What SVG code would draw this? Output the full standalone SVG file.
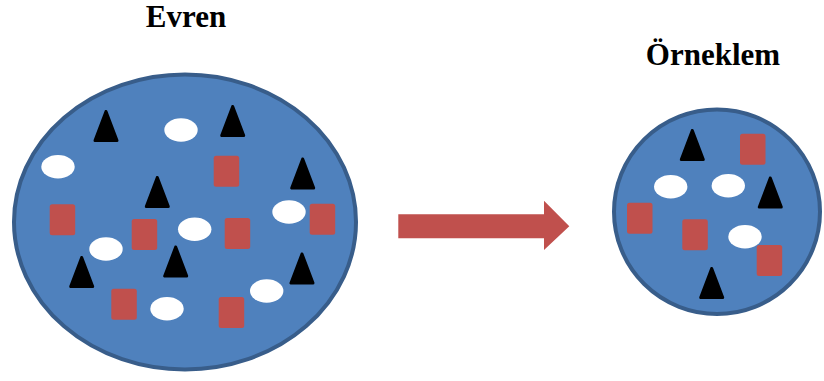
<svg xmlns="http://www.w3.org/2000/svg" width="824" height="381" viewBox="0 0 824 381">
<style>
.pop{fill:#4F81BD;stroke:#385D8A;stroke-width:4}
.tri{fill:#000;stroke:#000;stroke-width:3;stroke-linejoin:round}
.ov{fill:#fff}
.sq{fill:#C0504D}
</style>
<defs>
<path id="t" class="tri" d="M0,0 L-11,29 L11,29 Z"/>
<ellipse id="o" class="ov" cx="0" cy="0" rx="16.7" ry="11.7"/>
<rect id="r" class="sq" x="0" y="0" width="25.5" height="31" rx="2.5"/>
</defs>
<rect width="824" height="381" fill="#fff"/>
<g id="evren">
<text x="186" y="27" font-family="'Liberation Serif', 'Times New Roman', serif" font-weight="bold" font-size="31" text-anchor="middle" fill="#000">Evren</text>
<ellipse class="pop" cx="185" cy="222" rx="171" ry="147.5"/>
<use href="#t" x="106" y="111.5"/>
<use href="#t" x="232.7" y="106.5"/>
<use href="#t" x="302.7" y="159"/>
<use href="#t" x="157.3" y="177.5"/>
<use href="#t" x="81.7" y="257.5"/>
<use href="#t" x="175.7" y="247"/>
<use href="#t" x="302" y="254"/>
<use href="#o" x="181" y="130"/>
<use href="#o" x="58" y="166.7"/>
<use href="#o" x="289" y="212"/>
<use href="#o" x="194.7" y="229.3"/>
<use href="#o" x="106" y="249"/>
<use href="#o" x="266.7" y="291"/>
<use href="#o" x="167" y="308.7"/>
<use href="#r" x="213.7" y="155.7"/>
<use href="#r" x="49.7" y="204.3"/>
<use href="#r" x="131.7" y="219"/>
<use href="#r" x="224.7" y="218"/>
<use href="#r" x="309.7" y="203.7"/>
<use href="#r" x="111.3" y="288.7"/>
<use href="#r" x="218.7" y="297"/>
</g>
<g id="orneklem">
<text x="713" y="65" font-family="'Liberation Serif', 'Times New Roman', serif" font-weight="bold" font-size="31" text-anchor="middle" fill="#000">Örneklem</text>
<ellipse class="pop" cx="717" cy="211.7" rx="103" ry="102.3"/>
<use href="#t" x="692.3" y="130.5"/>
<use href="#t" x="770.3" y="178"/>
<use href="#t" x="711.7" y="268.5"/>
<use href="#o" x="670.7" y="186.7"/>
<use href="#o" x="728.3" y="185.7"/>
<use href="#o" x="745" y="236.7"/>
<use href="#r" x="740" y="133.7"/>
<use href="#r" x="627" y="202.7"/>
<use href="#r" x="682.3" y="219.3"/>
<use href="#r" x="756.7" y="245"/>
</g>
<g id="connectors">
<path d="M398.3,214.3 L544,214.3 L544,200.7 L569.3,226.3 L544,250 L544,238.3 L398.3,238.3 Z" fill="#C0504D"/>
</g>
</svg>
